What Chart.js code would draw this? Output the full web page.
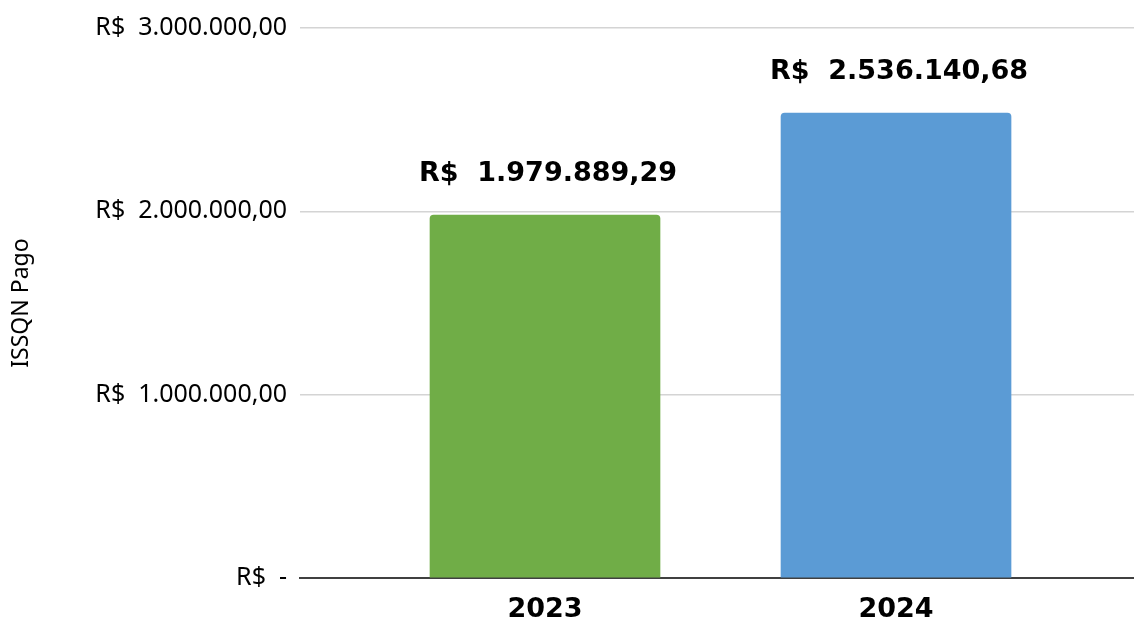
<!DOCTYPE html>
<html>
<head>
<meta charset="utf-8">
<script src="https://cdn.jsdelivr.net/npm/chart.js@4/dist/chart.umd.min.js"></script>
<style>
  html, body { margin: 0; padding: 0; background: #fff; }
  #wrap { width: 1134px; height: 617px; }
</style>
</head>
<body>
<div id="wrap"><canvas id="issqn"></canvas></div>
<script>
// ISSQN pago por ano
const years = [2023, 2024];
const paid = [1979889.29, 2536140.68];
const barColors = ["#70AD47", "#5B9BD5"];
const yTicks = [0, 1000000, 2000000, 3000000];

function brl(v, digits) {
  const parts = v.toFixed(digits).split(".");
  const int = parts[0].replace(/\B(?=(\d{3})+(?!\d))/g, ".");
  return parts.length > 1 ? int + "," + parts[1] : int;
}

// value labels above the bars
const barLabels = {
  id: "barLabels",
  afterDatasetsDraw(chart) {
    const ctx = chart.ctx;
    const meta = chart.getDatasetMeta(0);
    ctx.save();
    ctx.font = "bold 27px 'DejaVu Sans'";
    ctx.fillStyle = "#000";
    ctx.textAlign = "center";
    ctx.textBaseline = "alphabetic";
    meta.data.forEach((bar, i) => {
      ctx.fillText("R$  " + brl(paid[i], 2), bar.x + 3, bar.y - 34);
    });
    ctx.restore();
  }
};

new Chart(document.getElementById("issqn"), {
  type: "bar",
  data: {
    datasets: [{
      label: "ISSQN Pago",
      data: years.map((y, i) => ({ x: y, y: paid[i] })),
      backgroundColor: barColors,
      borderRadius: 4,
      borderSkipped: "start",
      barThickness: 230
    }]
  },
  options: {
    responsive: true,
    maintainAspectRatio: false,
    animation: false,
    layout: { padding: { top: 26, right: 0, bottom: 0, left: 0 } },
    plugins: {
      legend: { display: false },
      tooltip: { enabled: false }
    },
    scales: {
      x: {
        type: "linear",
        offset: false,
        min: 2022.302,
        max: 2024.678,
        afterBuildTicks: (scale) => { scale.ticks = years.map(v => ({ value: v })); },
        afterFit: (scale) => { scale.height = 39; },
        grid: { display: false, offset: false },
        border: { display: true, color: "#404040", width: 2 },
        ticks: {
          padding: 8,
          color: "#000",
          font: { family: "DejaVu Sans", size: 27, weight: "bold" },
          callback: (v) => String(v)
        }
      },
      y: {
        min: 0,
        max: 3000000,
        afterBuildTicks: (scale) => { scale.ticks = yTicks.map(v => ({ value: v })); },
        afterFit: (scale) => { scale.width = 300; },
        grid: { color: "#d4d4d4", lineWidth: 1.5, drawTicks: false },
        border: { display: false },
        ticks: {
          padding: 13,
          color: "#000",
          font: { family: "Noto Sans", size: 25 },
          callback: (v) => v === 0 ? "R$  -" : "R$  " + brl(v, 2)
        },
        title: {
          display: true,
          text: "ISSQN Pago",
          color: "#000",
          font: { family: "Noto Sans", size: 23 },
          padding: { top: 8, bottom: 0 }
        }
      }
    }
  },
  plugins: [barLabels]
});
</script>
</body>
</html>
